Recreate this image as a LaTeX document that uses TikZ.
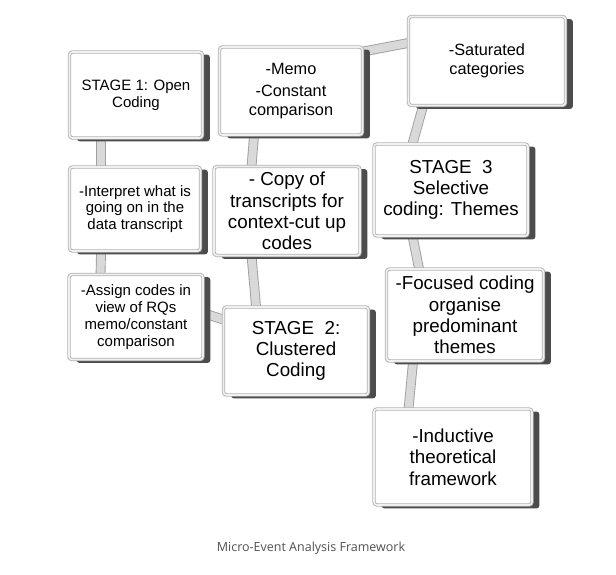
\documentclass[tikz,border=0pt]{standalone}
\usepackage{fontspec}
\setmainfont{Liberation Sans}
\newfontfamily\capfont{Open Sans}
\usetikzlibrary{backgrounds,calc}
\tikzset{
  stepbox/.style={draw=gray!60, line width=0.9pt, double=gray!12, double distance=1.6pt,
    fill=white, rounded corners=3pt,
    align=center, inner sep=2pt, text=black},
  boxshadow/.style={fill=black!70, rounded corners=3pt},
  bar/.style={draw=gray!75, line width=0.9pt, double=gray!30, double distance=8pt},
  fA/.style={font=\fontsize{15}{16.8}\selectfont},
  fB/.style={font=\fontsize{16.3}{19}\selectfont},
  fC/.style={font=\fontsize{18.8}{21.3}\selectfont},
}
\begin{document}
\begin{tikzpicture}[x=1pt,y=-1pt]
\useasboundingbox (0,0) rectangle (616,575);
% column 1
\node[stepbox,fA,minimum width=133pt,minimum height=86pt] (b1) at (136,95) {STAGE 1: Open\\Coding};
\node[stepbox,fA,minimum width=131pt,minimum height=84pt] (b2) at (135,209) {-Interpret what is\\going on in the\\data transcript};
\node[stepbox,fA,minimum width=134pt,minimum height=85pt] (b3) at (136,317) {-Assign codes in\\view of RQs\\memo/constant\\comparison};
% column 2
\node[stepbox,fB,minimum width=143pt,minimum height=88pt] (b4) at (291,91) {-Memo\\[3pt]-Constant\\comparison};
\node[stepbox,fC,minimum width=146pt,minimum height=89pt] (b5) at (287,211) {- Copy of\\transcripts for\\context-cut up\\codes};
\node[stepbox,fC,minimum width=145pt,minimum height=88pt] (b6) at (296,351) {STAGE\ \ 2:\\Clustered\\Coding};
% column 3
\node[stepbox,fB,minimum width=157pt,minimum height=89pt] (b7) at (487,61) {-Saturated\\categories};
\node[stepbox,fC,minimum width=154pt,minimum height=92pt] (b8) at (451,190) {STAGE\ \ 3\\Selective\\coding: Themes};
\node[stepbox,fC,minimum width=157pt,minimum height=92pt] (b9) at (465,315) {-Focused coding\\organise\\predominant\\themes};
\node[stepbox,fC,minimum width=158pt,minimum height=96pt] (b10) at (453,457) {-Inductive\\theoretical\\framework};
% connectors and shadows
\begin{scope}[on background layer]
\draw[bar] ($(b1.south west)+(32,0)$) -- ($(b2.north west)+(32,0)$);
\draw[bar] ($(b2.south west)+(32,0)$) -- ($(b3.north west)+(32,0)$);
\draw[bar] ($(b3.north east)+(0,39)$) -- ($(b6.north west)+(0,13)$);
\draw[bar] ($(b6.north west)+(33,0)$) -- ($(b5.south west)+(38,0)$);
\draw[bar] ($(b5.north west)+(38,0)$) -- ($(b4.south west)+(35,0)$);
\draw[bar] ($(b4.north east)+(0,5)$) -- ($(b7.north west)+(0,27)$);
\draw[bar] ($(b7.south west)+(15,0)$) -- ($(b8.north west)+(39,0)$);
\draw[bar] ($(b8.south west)+(39,0)$) -- ($(b9.north west)+(33,0)$);
\draw[bar] ($(b9.south west)+(27,0)$) -- ($(b10.north west)+(35,0)$);
\foreach \b in {b1,b2,b3,b4,b5,b6,b7,b8,b9,b10}
  \fill[boxshadow] ($(\b.north west)+(8,3)$) rectangle ($(\b.south east)+(7,3)$);
\end{scope}
\node[font=\capfont\fontsize{12.5}{14}\selectfont, text={rgb,255:red,80;green,80;blue,80}] (cap) at (311,548) {Micro-Event Analysis Framework};
\end{tikzpicture}
\end{document}
